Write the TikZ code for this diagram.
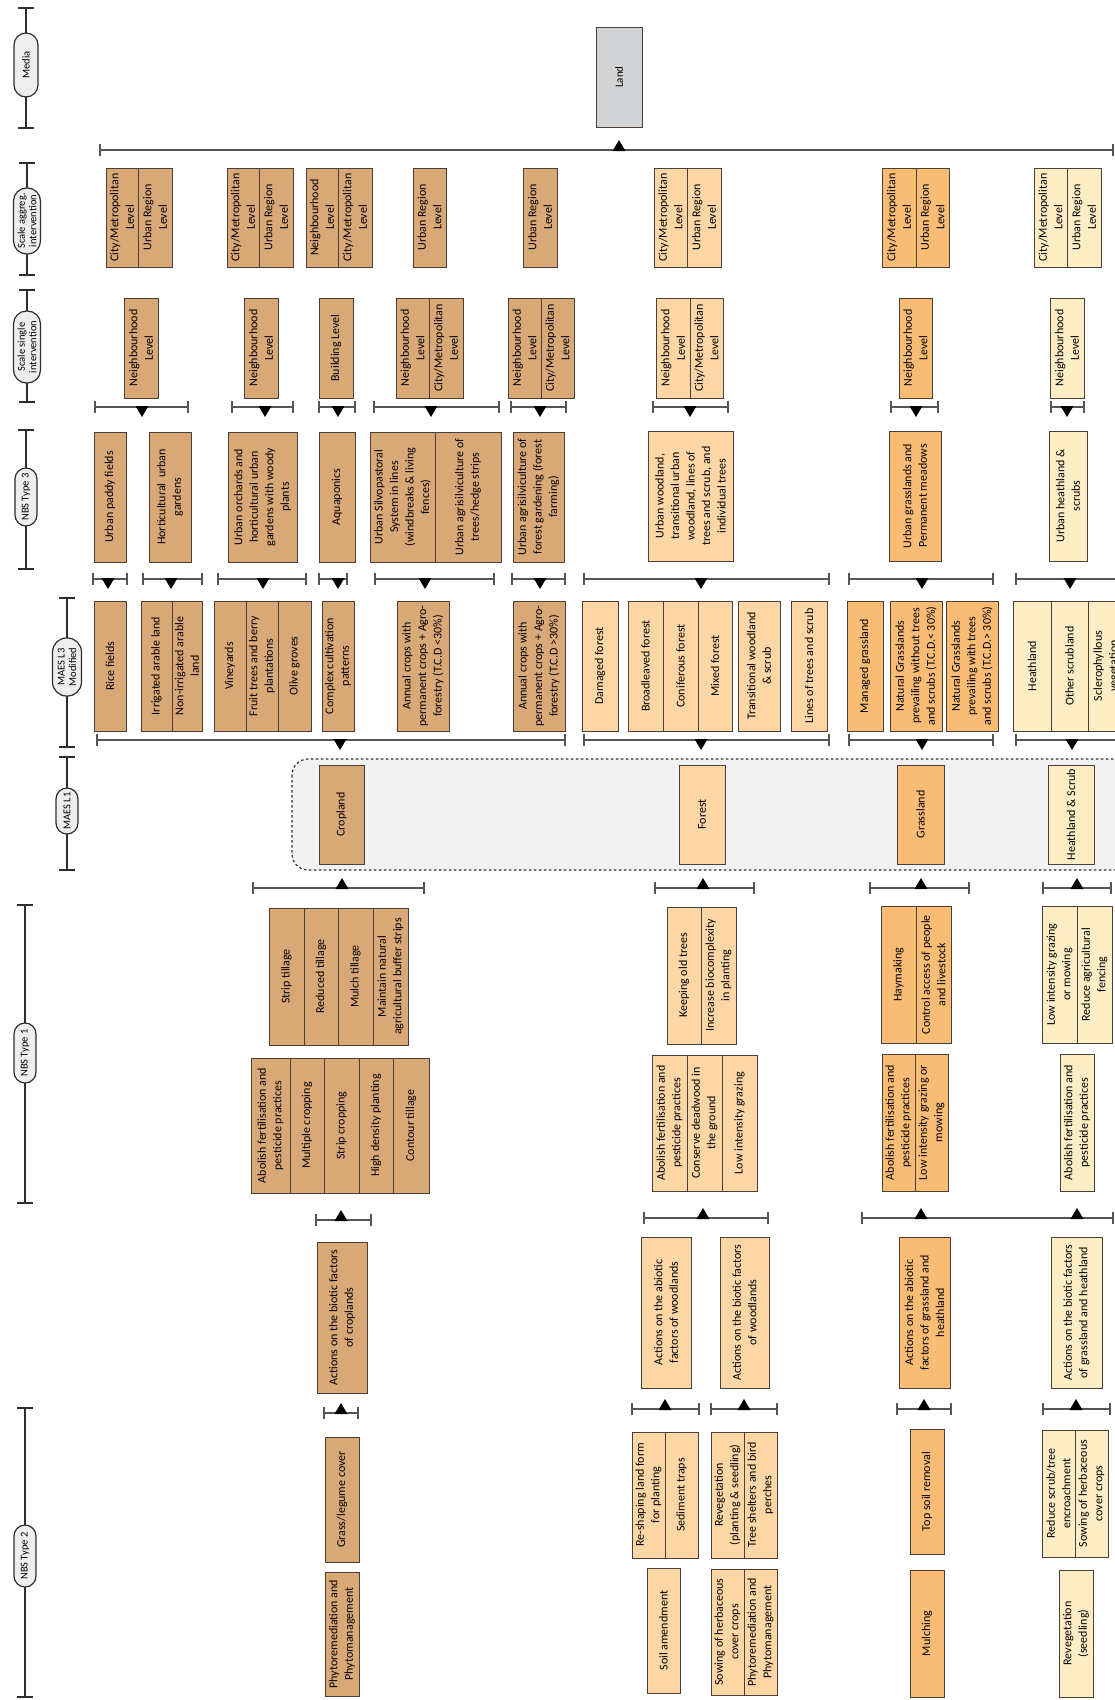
\documentclass[tikz,border=0pt]{standalone}
\usepackage{fontspec}
\setmainfont{Carlito}
\definecolor{cropc}{HTML}{D9A877}
\definecolor{forestc}{HTML}{FCD6A4}
\definecolor{grassc}{HTML}{F9BC74}
\definecolor{heathc}{HTML}{FDEDC5}
\definecolor{landc}{HTML}{D1D3D4}
\definecolor{pillc}{HTML}{EEEEEE}
\definecolor{regionc}{HTML}{F2F2F2}
\definecolor{boxline}{HTML}{4A4038}
\definecolor{brc}{HTML}{555555}
\definecolor{legc}{HTML}{2E2E2E}
\tikzset{
  cellbox/.style={draw=boxline, line width=0.9pt, rotate=90, inner sep=0pt,
    align=center, font=\fontsize{12}{15.5}\selectfont},
  crop/.style={fill=cropc},
  forest/.style={fill=forestc},
  grass/.style={fill=grassc},
  heath/.style={fill=heathc},
  pill/.style={draw=legc, fill=pillc, line width=1.2pt, rotate=90, inner sep=0pt,
    align=center, font=\fontsize{10.5}{11.5}\selectfont},
  brline/.style={draw=brc, line width=1.3pt},
  legline/.style={draw=legc, line width=2pt},
}
% a box cell: name, x1, y1, x2, y2, fill style, text (read bottom to top)
\newcommand\cell[7]{%
  \node[cellbox,#6,minimum width={(#5-#3)*1pt},minimum height={(#4-#2)*1pt}]
    (#1) at ({(#2+#4)/2},{(#3+#5)/2}) {#7};}
% bracket with end ticks and a triangle: y, x1, x2, x of the triangle
\newcommand\brdown[4]{%
  \draw[brline] (#2,#1) -- (#3,#1);
  \draw[brline] (#2,#1-6) -- (#2,#1+6);
  \draw[brline] (#3,#1-6) -- (#3,#1+6);
  \fill[black] (#4-6.5,#1-1) -- (#4+6.5,#1-1) -- (#4,#1+10) -- cycle;}
\newcommand\brup[4]{%
  \draw[brline] (#2,#1) -- (#3,#1);
  \draw[brline] (#2,#1-6) -- (#2,#1+6);
  \draw[brline] (#3,#1-6) -- (#3,#1+6);
  \fill[black] (#4-6.5,#1+1) -- (#4+6.5,#1+1) -- (#4,#1-10) -- cycle;}
% legend axis: x, y1, y2
\newcommand\legaxis[3]{%
  \draw[legline] (#1,#2) -- (#1,#3);
  \draw[legline] (#1-8,#2) -- (#1+8,#2);
  \draw[legline] (#1-8,#3) -- (#1+8,#3);}
\begin{document}
\begin{tikzpicture}[x=1pt,y=-1pt]
\useasboundingbox (0,0) rectangle (1115,1700);
\clip (0,0) rectangle (1115,1700);
\fill[white] (0,0) rectangle (1115,1700);

% ---------- legend axis on the left ----------
\legaxis{26}{8}{128}
\node[pill, rounded corners=12pt, minimum width=64pt, minimum height=24pt] (lmedia) at (26,65) {Media};
\legaxis{27}{163}{275}
\node[pill, rounded corners=13pt, minimum width=66pt, minimum height=27pt] (lagg) at (27,221) {Scale aggreg.\\intervention};
\legaxis{27}{290}{402}
\node[pill, rounded corners=13pt, minimum width=72pt, minimum height=27pt] (lsingle) at (27,347) {Scale single\\intervention};
\legaxis{26}{430}{569}
\node[pill, rounded corners=11pt, minimum width=58pt, minimum height=22pt] (lnbs3) at (26,497) {NBS Type 3};
\legaxis{67}{598}{747}
\node[pill, rounded corners=14pt, minimum width=58pt, minimum height=29pt] (lmaes3) at (67,667) {MAES L3\\Modified};
\legaxis{67}{757}{870}
\node[pill, rounded corners=11pt, minimum width=46pt, minimum height=22pt] (lmaes1) at (67,811) {MAES L1};
\legaxis{25}{905}{1203}
\node[pill, rounded corners=11pt, minimum width=60pt, minimum height=22pt] (lnbs1) at (25,1053) {NBS Type 1};
\legaxis{25}{1408}{1697}
\node[pill, rounded corners=11pt, minimum width=62pt, minimum height=22pt] (lnbs2) at (25,1556) {NBS Type 2};

% ---------- media ----------
\node[cellbox, fill=landc, minimum width=100pt, minimum height=46pt, font=\fontsize{11}{13}\selectfont] (land) at (619,77) {Land};
\brup{150}{100}{1113}{619}

% ---------- scale of aggregated intervention ----------
\cell{a1a}{106}{168}{138}{267}{crop}{City/Metropolitan\\Level}
\cell{a1b}{138}{168}{172}{267}{crop}{Urban Region\\Level}
\cell{a2a}{227}{168}{259}{267}{crop}{City/Metropolitan\\Level}
\cell{a2b}{259}{168}{293}{267}{crop}{Urban Region\\Level}
\cell{a3a}{306}{168}{338}{267}{crop}{Neighbourhood\\Level}
\cell{a3b}{338}{168}{372}{267}{crop}{City/Metropolitan\\Level}
\cell{a4}{413}{168}{446}{267}{crop}{Urban Region\\Level}
\cell{a5}{523}{168}{557}{267}{crop}{Urban Region\\Level}
\cell{a6a}{654}{168}{687}{267}{forest}{City/Metropolitan\\Level}
\cell{a6b}{687}{168}{721}{267}{forest}{Urban Region\\Level}
\cell{a7a}{882}{168}{916}{267}{grass}{City/Metropolitan\\Level}
\cell{a7b}{916}{168}{949}{267}{grass}{Urban Region\\Level}
\cell{a8a}{1034}{168}{1067}{267}{heath}{City/Metropolitan\\Level}
\cell{a8b}{1067}{168}{1101}{267}{heath}{Urban Region\\Level}

% ---------- scale of single intervention ----------
\cell{b1}{124}{298}{158}{398}{crop}{Neighbourhood\\Level}
\cell{b2}{244}{298}{278}{398}{crop}{Neighbourhood\\Level}
\cell{b3}{319}{298}{353}{398}{crop}{Building Level}
\cell{b4a}{396}{298}{429}{398}{crop}{Neighbourhood\\Level}
\cell{b4b}{429}{298}{463}{398}{crop}{City/Metropolitan\\Level}
\cell{b5a}{508}{298}{541}{398}{crop}{Neighbourhood\\Level}
\cell{b5b}{541}{298}{574}{398}{crop}{City/Metropolitan\\Level}
\cell{b6a}{656}{298}{690}{398}{forest}{Neighbourhood\\Level}
\cell{b6b}{690}{298}{723}{398}{forest}{City/Metropolitan\\Level}
\cell{b7}{899}{298}{932}{398}{grass}{Neighbourhood\\Level}
\cell{b8}{1050}{298}{1084}{398}{heath}{Neighbourhood\\Level}

\brdown{407}{95}{188}{142}
\brdown{407}{232}{293}{265}
\brdown{407}{319}{355}{338}
\brdown{407}{374}{499}{431}
\brdown{407}{511}{566}{540}
\brdown{407}{653}{728}{690}
\brdown{407}{891}{938}{916}
\brdown{407}{1051}{1084}{1067}

% ---------- NBS type 3 ----------
\cell{c1}{94}{432}{126}{562}{crop}{Urban paddy fields}
\cell{c2}{149}{432}{191}{562}{crop}{Horticultural~ urban\\gardens}
\cell{c3}{228}{432}{297}{562}{crop}{Urban orchards and\\horticultural urban\\gardens with woody\\plants}
\cell{c4}{319}{432}{355}{562}{crop}{Aquaponics}
\cell{c5a}{370}{432}{435}{562}{crop}{Urban Silvopastoral\\System in lines\\(windbreaks \& living\\fences)}
\cell{c5b}{435}{432}{501}{562}{crop}{Urban agrisilviculture of\\trees/hedge strips}
\cell{c6}{513}{432}{564}{562}{crop}{Urban agrisilviculture of\\forest gardening (forest\\farming)}
\cell{c7}{648}{431}{733}{561}{forest}{Urban woodland,\\transitional urban\\woodland, lines of\\trees and scrub, and\\individual trees}
\cell{c8}{889}{431}{941}{561}{grass}{Urban grasslands and\\Permanent meadows}
\cell{c9}{1049}{431}{1087}{561}{heath}{Urban heathland \&\\scrubs}

\brdown{579}{93}{127}{108}
\brdown{579}{143}{202}{171}
\brdown{579}{218}{306}{263}
\brdown{579}{319}{347}{338}
\brdown{579}{375}{494}{425}
\brdown{579}{512}{565}{540}
\brdown{579}{584}{829}{701}
\brdown{579}{849}{993}{922}
\brdown{579}{1016}{1125}{1070}

% ---------- MAES L3 modified ----------
\cell{d1}{94}{601}{126}{731}{crop}{Rice fields}
\cell{d2a}{141}{601}{172}{731}{crop}{Irrigated arable land}
\cell{d2b}{172}{601}{202}{731}{crop}{Non-irrigated arable\\land}
\cell{d3a}{214}{601}{246}{731}{crop}{Vineyards}
\cell{d3b}{246}{601}{278}{731}{crop}{Fruit trees and berry\\plantations}
\cell{d3c}{278}{601}{311}{731}{crop}{Olive groves}
\cell{d4}{322}{601}{354}{731}{crop}{Complex cultivation\\patterns}
\cell{d5}{397}{601}{449}{731}{crop}{Annual crops with\\permanent crops + Agro-\\forestry (T.C.D <30\%)}
\cell{d6}{513}{601}{565}{731}{crop}{Annual crops with\\permanent crops + Agro-\\forestry (T.C.D >30\%)}
\cell{d7}{582}{601}{618}{731}{forest}{Damaged forest}
\cell{d8a}{628}{601}{663}{731}{forest}{Broadleaved forest}
\cell{d8b}{663}{601}{698}{731}{forest}{Coniferous forest}
\cell{d8c}{698}{601}{732}{731}{forest}{Mixed forest}
\cell{d9}{738}{601}{780}{731}{forest}{Transitional woodland\\\& scrub}
\cell{d10}{791}{601}{827}{731}{forest}{Lines of trees and scrub}
\cell{d11}{847}{601}{883}{731}{grass}{Managed grassland}
\cell{d12}{890}{601}{942}{731}{grass}{Natural Grasslands\\prevailing without trees\\and scrubs (T.C.D.< 30\%)}
\cell{d13}{946}{601}{998}{731}{grass}{Natural Grasslands\\prevailing with trees\\and scrubs (T.C.D.> 30\%)}
\cell{d14a}{1013}{601}{1051}{731}{heath}{Heathland}
\cell{d14b}{1051}{601}{1088}{731}{heath}{Other scrubland}
\cell{d14c}{1088}{601}{1125}{731}{heath}{Sclerophyllous\\vegetation}

\brdown{740}{97}{565}{340}
\brdown{740}{584}{829}{701}
\brdown{740}{849}{993}{922}
\brdown{740}{1016}{1125}{1072}

% ---------- MAES L1 ----------
\draw[fill=regionc, draw=legc, line width=1.2pt, dash pattern=on 2.5pt off 2.5pt, rounded corners=16pt]
  (292,759) rectangle (1135,870);
\cell{e1}{319}{765}{364}{864}{crop}{Cropland}
\cell{e2}{679}{765}{725}{864}{forest}{Forest}
\cell{e3}{897}{765}{944}{864}{grass}{Grassland}
\cell{e4}{1048}{765}{1094}{864}{heath}{Heathland \& Scrub}

\brup{888}{253}{424}{342}
\brup{888}{655}{754}{703}
\brup{888}{870}{969}{921}
\brup{888}{1043}{1111}{1077}

% ---------- NBS type 1 ----------
\cell{f1a}{269}{908}{304}{1045}{crop}{Strip tillage}
\cell{f1b}{304}{908}{338}{1045}{crop}{Reduced tillage}
\cell{f1c}{338}{908}{373}{1045}{crop}{Mulch tillage}
\cell{f1d}{373}{908}{408}{1045}{crop}{Maintain natural\\agricultural buffer strips}
\cell{f2a}{667}{907}{701}{1044}{forest}{Keeping old trees}
\cell{f2b}{701}{907}{736}{1044}{forest}{Increase biocomplexity\\in planting}
\cell{f3a}{881}{906}{916}{1043}{grass}{Haymaking}
\cell{f3b}{916}{906}{951}{1043}{grass}{Control access of people\\and livestock}
\cell{f4a}{1042}{906}{1077}{1043}{heath}{Low intensity grazing\\or mowing}
\cell{f4b}{1077}{906}{1112}{1043}{heath}{Reduce agricultural\\fencing}

\cell{g1a}{251}{1058}{290}{1193}{crop}{Abolish fertilisation and\\pesticide practices}
\cell{g1b}{290}{1058}{324}{1193}{crop}{Multiple cropping}
\cell{g1c}{324}{1058}{359}{1193}{crop}{Strip cropping}
\cell{g1d}{359}{1058}{393}{1193}{crop}{High density planting}
\cell{g1e}{393}{1058}{429}{1193}{crop}{Contour tillage}
\cell{g2a}{652}{1055}{687}{1191}{forest}{Abolish fertilisation and\\pesticide practices}
\cell{g2b}{687}{1055}{722}{1191}{forest}{Conserve deadwood in\\the ground}
\cell{g2c}{722}{1055}{757}{1191}{forest}{Low intensity grazing}
\cell{g3a}{882}{1054}{915}{1191}{grass}{Abolish fertilisation and\\pesticide practices}
\cell{g3b}{915}{1054}{948}{1191}{grass}{Low intensity grazing or\\mowing}
\cell{g4}{1060}{1054}{1094}{1191}{heath}{Abolish fertilisation and\\pesticide practices}

\brup{1220}{316}{371}{341}
\brup{1218}{644}{768}{703}
\draw[brline] (862,1218) -- (1113,1218);
\draw[brline] (862,1212) -- (862,1224);
\draw[brline] (1113,1212) -- (1113,1224);
\fill[black] (921-6.5,1219) -- (921+6.5,1219) -- (921,1208) -- cycle;
\fill[black] (1077-6.5,1219) -- (1077+6.5,1219) -- (1077,1208) -- cycle;

% ---------- actions ----------
\cell{h1}{317}{1242}{367}{1393}{crop}{Actions on the biotic factors\\of croplands}
\cell{h2}{641}{1237}{691}{1388}{forest}{Actions on the abiotic\\factors of woodlands}
\cell{h3}{720}{1237}{769}{1388}{forest}{Actions on the biotic factors\\of woodlands}
\cell{h4}{899}{1237}{950}{1388}{grass}{Actions on the abiotic\\factors of grassland and\\heathland}
\cell{h5}{1051}{1237}{1102}{1388}{heath}{Actions on the biotic factors\\of grassland and heathland}

\brup{1413}{324}{358}{341}
\brup{1409}{632}{699}{665}
\brup{1409}{711}{777}{744}
\brup{1409}{897}{951}{924}
\brup{1409}{1043}{1110}{1076}

% ---------- NBS type 2 ----------
\cell{i1}{325}{1437}{359}{1562}{crop}{Grass/legume cover}
\cell{i2a}{632}{1432}{665}{1558}{forest}{Re-shaping land form\\for planting}
\cell{i2b}{665}{1432}{698}{1558}{forest}{Sediment traps}
\cell{i3a}{711}{1432}{744}{1558}{forest}{Revegetation\\(planting \& seedling)}
\cell{i3b}{744}{1432}{777}{1558}{forest}{Tree shelters and bird\\perches}
\cell{i4}{910}{1429}{944}{1554}{grass}{Top soil removal}
\cell{i5a}{1042}{1430}{1075}{1557}{heath}{Reduce scrub/tree\\encroachment}
\cell{i5b}{1075}{1430}{1108}{1557}{heath}{Sowing of herbaceous\\cover crops}

\cell{j1}{325}{1572}{359}{1696}{crop}{Phytoremediation and\\Phytomanagement}
\cell{j2}{647}{1568}{680}{1693}{forest}{Soil amendment}
\cell{j3a}{711}{1569}{744}{1695}{forest}{Sowing of herbaceous\\cover crops}
\cell{j3b}{744}{1569}{777}{1695}{forest}{Phytoremediation and\\Phytomanagement}
\cell{j4}{910}{1570}{944}{1697}{grass}{Mulching}
\cell{j5}{1059}{1570}{1093}{1697}{heath}{Revegetation\\(seedling)}
\end{tikzpicture}
\end{document}
